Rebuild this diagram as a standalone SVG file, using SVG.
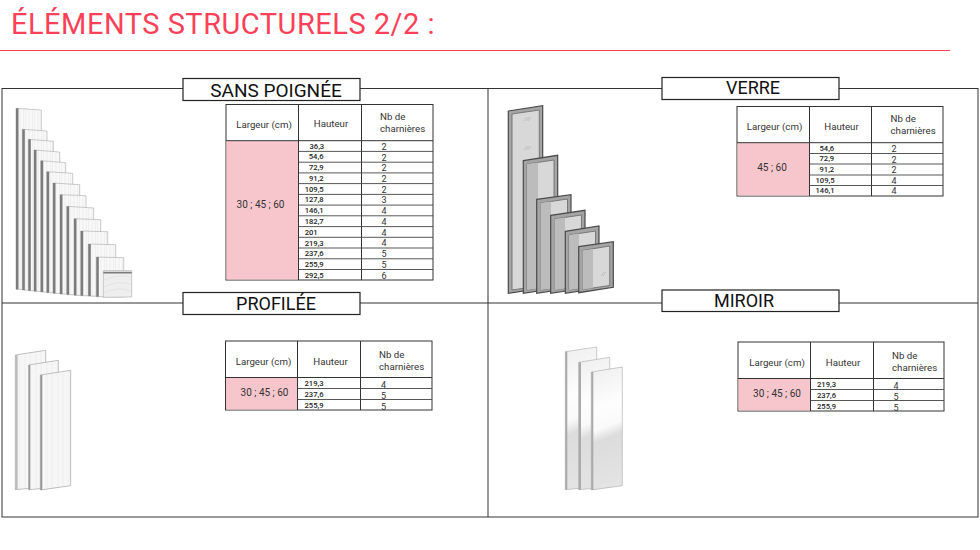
<svg xmlns="http://www.w3.org/2000/svg" width="980" height="550" viewBox="0 0 980 550">
<style>
text{font-family:Roboto,"Liberation Sans",sans-serif;fill:#222}
.title{font-size:29px;letter-spacing:.5px;fill:#fb4158}
.sec{font-size:18px;fill:#111;text-anchor:middle}
.frame{fill:none;stroke:#333;stroke-width:1}
.box{fill:#fff;stroke:#222;stroke-width:1.2}
.t{fill:#fff;stroke:#333;stroke-width:1}
.pink{fill:#f7c6cc}
.ln{stroke:#333;stroke-width:1;fill:none}
.rl{stroke:#444;stroke-width:.9;fill:none}
.h{font-size:9.7px;fill:#333}
.hm{text-anchor:middle}
.w{font-size:10px;text-anchor:middle;fill:#333}
.c{font-size:7.6px;font-weight:500;fill:#222}
.n{font-size:9px;text-anchor:middle;fill:#333}
.p{fill:url(#wood);stroke:#aaa;stroke-width:.6}
.e{fill:#7c7c7c}
.pp{fill:url(#wood2);stroke:#999;stroke-width:.6}
.m{fill:url(#mir);stroke:#aaa;stroke-width:.6}
.e2{fill:#aaa}
.fo{fill:#a4a4a4;stroke:#4a4a4a;stroke-width:1.2}
.fi{fill:#d8d8d8;stroke:#707070;stroke-width:.9}
.fs{fill:#bcbcbc}
</style>
<defs>
<pattern id="wood" width="9" height="40" patternUnits="userSpaceOnUse"><rect width="9" height="40" fill="#f8f8f8"/><path d="M2 0V40M5.5 0V40M7.5 0V40" stroke="#ebebeb" stroke-width=".7"/></pattern>
<pattern id="wood2" width="11" height="60" patternUnits="userSpaceOnUse"><rect width="11" height="60" fill="#f6f6f6"/><path d="M3 0V60M8 0V60" stroke="#eeeeee" stroke-width="1"/></pattern>
<linearGradient id="mir" x1=".45" y1="0" x2=".55" y2="1"><stop offset="0" stop-color="#f0f0f0"/><stop offset=".3" stop-color="#fdfdfd"/><stop offset=".48" stop-color="#fafafa"/><stop offset=".58" stop-color="#dcdcdc"/><stop offset="1" stop-color="#e4e4e4"/></linearGradient>
</defs>
<g id="header"><text class="title" x="11" y="33.5">ÉLÉMENTS STRUCTURELS 2/2 :</text><path d="M0 50.5H950" stroke="#fb4158" stroke-width="1"/></g>
<g id="connectors">
<rect class="frame" x="2" y="88.5" width="976" height="428.5"/>
<path class="frame" d="M488 88.5V517M2 303H978"/>
</g>
<g id="node-sans-poignee">
<rect class="box" x="183" y="78.5" width="177" height="22"/><text class="sec" style="font-size:19px" x="276" y="97">SANS POIGNÉE</text>
<g id="panels-sans-poignee">
<polygon class="p" points="16,108.3 41.3,110 41.3,290 16,289.3"/><rect class="e" x="16" y="108.3" width="2.5" height="181"/>
<polygon class="p" points="22.3,129.3 47,131 47,290.5 22.3,290"/><rect class="e" x="22.3" y="129.3" width="2.5" height="160.7"/>
<polygon class="p" points="28.3,139.3 53.3,141.3 53.3,291 28.3,290.7"/><rect class="e" x="28.3" y="139.3" width="2.5" height="151.4"/>
<polygon class="p" points="34,150 59.7,152 59.7,291.7 34,291.3"/><rect class="e" x="34" y="150" width="2.5" height="141.3"/>
<polygon class="p" points="40.7,160.7 65.7,162.7 65.7,292.3 40.7,292"/><rect class="e" x="40.7" y="160.7" width="2.5" height="131.3"/>
<polygon class="p" points="46.7,171.7 72.7,173.3 72.7,293 46.7,292.7"/><rect class="e" x="46.7" y="171.7" width="2.5" height="121"/>
<polygon class="p" points="53,183 79.7,184.7 79.7,293.7 53,293.3"/><rect class="e" x="53" y="183" width="2.5" height="110.3"/>
<polygon class="p" points="60,194.7 86,195.7 86,294.3 60,294"/><rect class="e" x="60" y="194.7" width="2.5" height="99.3"/>
<polygon class="p" points="66.7,206.3 93.7,208 93.7,295 66.7,294.7"/><rect class="e" x="66.7" y="206.3" width="2.5" height="88.4"/>
<polygon class="p" points="74,218.7 100.7,219.7 100.7,295.7 74,295.3"/><rect class="e" x="74" y="218.7" width="2.5" height="76.6"/>
<polygon class="p" points="80.7,231 107.7,231.7 107.7,296 80.7,295.7"/><rect class="e" x="80.7" y="231" width="2.5" height="64.7"/>
<polygon class="p" points="88.3,244 115.7,244.7 115.7,296.3 88.3,296"/><rect class="e" x="88.3" y="244" width="2.5" height="52"/>
<polygon class="p" points="96.3,257 123.7,257.7 123.7,297 96.3,296.7"/><rect class="e" x="96.3" y="257" width="2.5" height="39.7"/>
<polygon points="103.3,270.7 131.7,270.7 131.7,273 103.3,273" fill="#ddd" stroke="#999" stroke-width=".5"/>
<polygon points="103.3,273 131.7,273 131.7,297 103.3,297.3" fill="#eee" stroke="#aaa" stroke-width=".6"/>
<path d="M103.5 272.8H131.5" stroke="#555" stroke-width=".9"/>
<path d="M104 280Q118 274 131 277M104 287Q118 280 131 284M104 293Q118 286 131 291" stroke="#dcdcdc" stroke-width=".6" fill="none"/>
</g>
<g id="table-sans-poignee">
<rect class="t" x="226" y="104.5" width="207" height="175.5"/>
<rect class="pink" x="226.5" y="141" width="72" height="138.5"/>
<path class="ln" d="M226 140.7H433M298.5 104.5V280M361.5 104.5V280"/>
<path class="rl" d="M298.5 151.4H433M298.5 162.2H433M298.5 172.9H433M298.5 183.6H433M298.5 194.4H433M298.5 205.1H433M298.5 215.8H433M298.5 226.6H433M298.5 237.3H433M298.5 248H433M298.5 258.8H433M298.5 269.5H433"/>
<text class="h hm" x="264" y="128">Largeur (cm)</text><text class="h hm" x="331" y="127">Hauteur</text>
<text class="h"><tspan x="380" y="120">Nb de</tspan><tspan x="380" y="132">charnières</tspan></text>
<text class="w" x="260.5" y="208">30 ; 45 ; 60</text>
<text class="c" x="309.5" y="148.5">36,3</text><text class="c" x="308.8" y="159">54,6</text><text class="c" x="309" y="170">72,9</text><text class="c" x="309" y="180.5">91,2</text><text class="c" x="304.7" y="191.5">109,5</text><text class="c" x="304.7" y="202">127,8</text><text class="c" x="304.7" y="213">146,1</text><text class="c" x="304.7" y="224">182,7</text><text class="c" x="304.7" y="234.5">201</text><text class="c" x="304.7" y="245.5">219,3</text><text class="c" x="304.7" y="256">237,6</text><text class="c" x="304.7" y="266.5">255,9</text><text class="c" x="304.7" y="277.5">292,5</text>
<text class="n" x="384" y="150">2</text><text class="n" x="384" y="160.5">2</text><text class="n" x="384" y="171.2">2</text><text class="n" x="384" y="182">2</text><text class="n" x="384" y="192.7">2</text><text class="n" x="384" y="203.4">3</text><text class="n" x="384" y="214.1">4</text><text class="n" x="384" y="224.9">4</text><text class="n" x="384" y="235.6">4</text><text class="n" x="384" y="246.3">4</text><text class="n" x="384" y="257">5</text><text class="n" x="384" y="267.8">5</text><text class="n" x="384" y="278.5">6</text>
</g>
</g>
<g id="node-verre">
<rect class="box" x="662" y="77.5" width="177" height="22"/><text class="sec" x="753" y="94">VERRE</text>
<g id="frames-verre">
<polygon class="fo" points="508.3,111 542.7,105.7 542.7,288 508.3,293.3"/><polygon class="fi" points="512,114 539.3,110 539.3,286 512,290"/>
<path d="M524 121l3-4M526 121l3-4M528 121l3-4M524 150l3-4M526 150l3-4M528 150l3-4" stroke="#aaa" stroke-width=".5"/>
<polygon class="fo" points="523.3,160.7 557.7,155.3 557.7,288 523.3,293.3"/><polygon class="fi" points="527,164 554,160 554,286 527,290"/><polygon class="fs" points="527,164 538,162.5 538,288.5 527,290"/>
<polygon class="fo" points="536.7,199.3 571,194.7 571,288 536.7,293.3"/><polygon class="fi" points="540.5,203 567.5,199 567.5,286 540.5,290"/><polygon class="fs" points="540.5,203 551,201.5 551,288.5 540.5,290"/>
<polygon class="fo" points="550.7,215.3 585,210.3 585,288 550.7,293.3"/><polygon class="fi" points="554.5,219 581.5,215 581.5,286 554.5,290"/><polygon class="fs" points="554.5,219 565,217.5 565,288.5 554.5,290"/>
<polygon class="fo" points="565.3,231.3 599,226 599,288 565.3,293.3"/><polygon class="fi" points="569,235 595.5,231 595.5,286 569,290"/><polygon class="fs" points="569,235 579,233.5 579,288.5 569,290"/>
<polygon class="fo" points="578.7,246.7 613.3,241.7 613.3,287.3 578.7,292.7"/><polygon class="fi" points="582.5,250.5 609.7,246 609.7,285.5 582.5,289.5"/><polygon class="fs" points="582.5,250.5 593,249 593,288 582.5,289.5"/>
<path d="M601 276l3-4M603 276l3-4" stroke="#aaa" stroke-width=".5"/>
</g>
<g id="table-verre">
<rect class="t" x="737" y="106.5" width="206" height="89.5"/>
<rect class="pink" x="737.5" y="143" width="72" height="52.5"/>
<path class="ln" d="M737 142.7H943M809.5 106.5V196M871.5 106.5V196"/>
<path class="rl" d="M809.5 153.5H943M809.5 164H943M809.5 175H943M809.5 185.5H943"/>
<text class="h hm" x="774.5" y="130">Largeur (cm)</text><text class="h hm" x="841.5" y="130">Hauteur</text>
<text class="h"><tspan x="890.5" y="122">Nb de</tspan><tspan x="890.5" y="134">charnières</tspan></text>
<text class="w" x="772" y="171">45 ; 60</text>
<text class="c" x="819.5" y="150.5">54,6</text><text class="c" x="819.5" y="161">72,9</text><text class="c" x="819.5" y="171.5">91,2</text><text class="c" x="815.5" y="182.5">109,5</text><text class="c" x="815.5" y="193">146,1</text>
<text class="n" x="894" y="152">2</text><text class="n" x="894" y="162.6">2</text><text class="n" x="894" y="173.2">2</text><text class="n" x="894" y="183.8">4</text><text class="n" x="894" y="194.4">4</text>
</g>
</g>
<g id="node-profilee">
<rect class="box" x="183" y="292.5" width="177" height="22"/><text class="sec" x="276" y="310">PROFILÉE</text>
<g id="panels-profilee">
<polygon class="pp" points="15.3,355 45.7,350.3 45.7,486.7 15.3,489.7"/><rect x="15.3" y="355" width="2.3" height="134.7" fill="#bbb"/>
<polygon class="pp" points="28.7,365 58.3,360.3 58.3,487 28.7,489.7"/><rect x="28.7" y="365" width="1.6" height="124.7" fill="#999"/>
<polygon class="pp" points="40.3,375 70.7,370.3 70.7,485.7 40.3,490"/><rect x="40.3" y="375" width="2" height="115" fill="#999"/>
</g>
<g id="table-profilee">
<rect class="t" x="225.5" y="341" width="206.5" height="69"/>
<rect class="pink" x="226" y="378" width="71.5" height="31.5"/>
<path class="ln" d="M225.5 377.5H432M297.5 341V410M360.5 341V410"/>
<path class="rl" d="M297.5 388.5H432M297.5 399.5H432"/>
<text class="h hm" x="263.5" y="365">Largeur (cm)</text><text class="h hm" x="330.5" y="365">Hauteur</text>
<text class="h"><tspan x="379" y="358">Nb de</tspan><tspan x="379" y="369.5">charnières</tspan></text>
<text class="w" x="264.5" y="396">30 ; 45 ; 60</text>
<text class="c" x="304.5" y="385.5">219,3</text><text class="c" x="304.5" y="396.5">237,6</text><text class="c" x="304.5" y="407.5">255,9</text>
<text class="n" x="383.5" y="387.5">4</text><text class="n" x="383.5" y="398.5">5</text><text class="n" x="383.5" y="409.5">5</text>
</g>
</g>
<g id="node-miroir">
<rect class="box" x="662" y="290" width="177" height="21.5"/><text class="sec" x="744" y="306.5">MIROIR</text>
<g id="panels-miroir">
<polygon class="m" points="565.3,351.7 596.7,347 596.7,486.7 565.3,489.7"/><rect class="e2" x="565.3" y="351.7" width="2" height="138"/>
<polygon class="m" points="578.7,362.3 609.7,357.3 609.7,487 578.7,489.7"/><rect class="e2" x="578.7" y="362.3" width="2.3" height="127.4"/>
<polygon class="m" points="591.3,372 622.3,367 622.3,485.7 591.3,490"/><rect class="e2" x="591.3" y="372" width="2" height="118"/>
</g>
<g id="table-miroir">
<rect class="t" x="738" y="342" width="206" height="69"/>
<rect class="pink" x="738.5" y="379" width="72" height="31.5"/>
<path class="ln" d="M738 378.5H944M810.5 342V411M873.5 342V411"/>
<path class="rl" d="M810.5 389.5H944M810.5 400.5H944"/>
<text class="h hm" x="777" y="366">Largeur (cm)</text><text class="h hm" x="843" y="366">Hauteur</text>
<text class="h"><tspan x="892" y="359">Nb de</tspan><tspan x="892" y="371">charnières</tspan></text>
<text class="w" x="777" y="397">30 ; 45 ; 60</text>
<text class="c" x="817" y="386.5">219,3</text><text class="c" x="817" y="397.5">237,6</text><text class="c" x="817" y="408.5">255,9</text>
<text class="n" x="896" y="388.5">4</text><text class="n" x="896" y="399.5">5</text><text class="n" x="896" y="410.5">5</text>
</g>
</g>
</svg>
